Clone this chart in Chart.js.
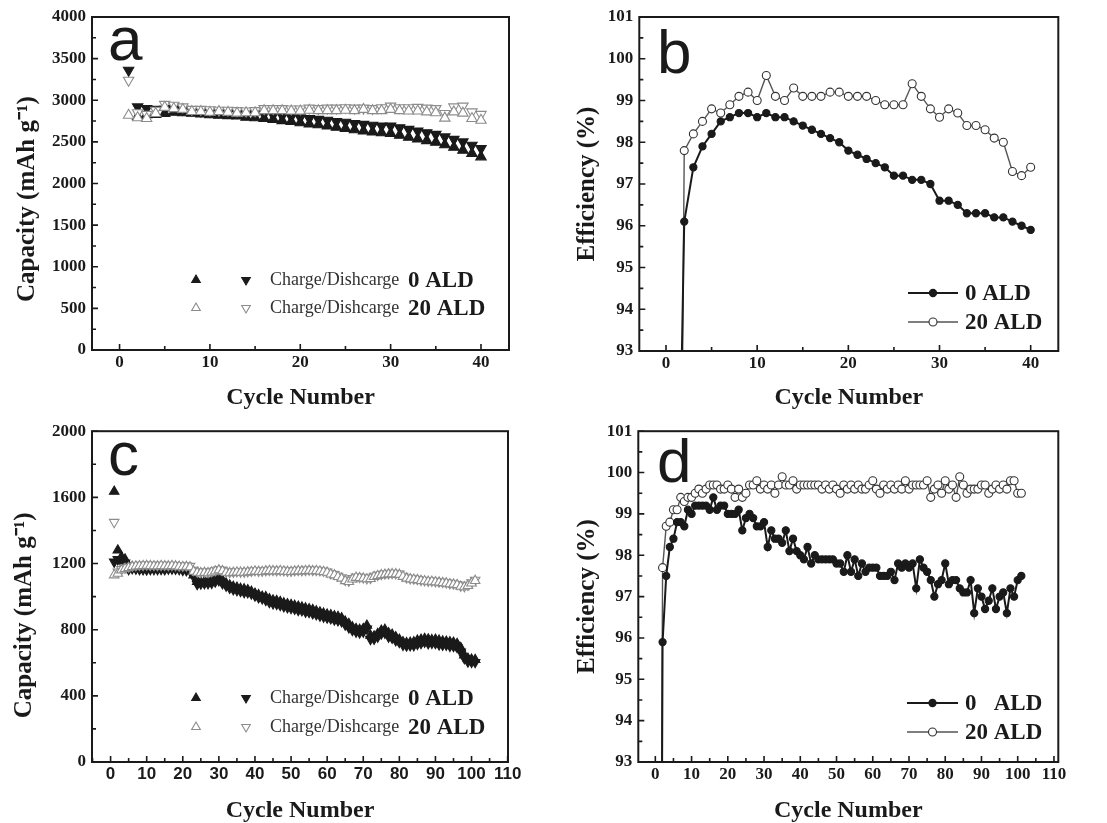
<!DOCTYPE html>
<html>
<head>
<meta charset="utf-8">
<script src="https://cdn.jsdelivr.net/npm/chart.js@4"></script>
<style>
  body { margin: 0; background: #fff; }
  #wrap { position: relative; width: 1107px; height: 823px; overflow: hidden; background: #fff; }
  canvas { position: absolute; }
</style>
</head>
<body>
<div id="wrap">
  <canvas id="chart-a" width="550" height="415" style="left:0;top:0"></canvas>
  <canvas id="chart-b" width="557" height="415" style="left:550px;top:0"></canvas>
  <canvas id="chart-c" width="550" height="408" style="left:0;top:415px"></canvas>
  <canvas id="chart-d" width="557" height="408" style="left:550px;top:415px"></canvas>
</div>
<script>
// ---- data ----
const cyclesA = [1, 2, 3, 4, 5, 6, 7, 8, 9, 10, 11, 12, 13, 14, 15, 16, 17, 18, 19, 20,
  21, 22, 23, 24, 25, 26, 27, 28, 29, 30, 31, 32, 33, 34, 35, 36, 37, 38, 39, 40];

// (a) capacity, mAh/g
const chargeA0 = [null, 2805, 2825, 2830, 2840, 2855, 2850, 2845, 2835, 2825,
  2820, 2815, 2810, 2795, 2790, 2780, 2770, 2755, 2745, 2730,
  2715, 2705, 2690, 2675, 2660, 2645, 2630, 2620, 2610, 2600,
  2580, 2555, 2535, 2515, 2495, 2465, 2435, 2400, 2360, 2320];
const dischargeA0 = [3360, 2920, 2900, 2890, 2890, 2900, 2890, 2880, 2870, 2865,
  2860, 2855, 2850, 2840, 2835, 2830, 2820, 2810, 2800, 2790,
  2780, 2770, 2760, 2745, 2735, 2720, 2710, 2700, 2690, 2690,
  2670, 2650, 2630, 2610, 2590, 2560, 2530, 2500, 2460, 2420];
const chargeA20 = [2820, 2790, 2780, 2840, 2915, 2900, 2890, 2865, 2865, 2855,
  2865, 2855, 2845, 2850, 2850, 2875, 2875, 2875, 2870, 2870,
  2880, 2875, 2875, 2875, 2880, 2875, 2890, 2875, 2875, 2890,
  2875, 2870, 2870, 2860, 2850, 2785, 2860, 2845, 2780, 2760];
const dischargeA20 = [3240, 2850, 2830, 2880, 2950, 2940, 2920, 2890, 2890, 2885,
  2880, 2880, 2875, 2870, 2875, 2900, 2900, 2900, 2895, 2895,
  2905, 2900, 2905, 2905, 2910, 2905, 2905, 2900, 2910, 2930,
  2910, 2910, 2915, 2905, 2900, 2840, 2920, 2930, 2860, 2830];

// (b) coulombic efficiency, %
const effB0 = [84, 96.1, 97.4, 97.9, 98.2, 98.5, 98.6, 98.7, 98.7, 98.6,
  98.7, 98.6, 98.6, 98.5, 98.4, 98.3, 98.2, 98.1, 98.0, 97.8,
  97.7, 97.6, 97.5, 97.4, 97.2, 97.2, 97.1, 97.1, 97.0, 96.6,
  96.6, 96.5, 96.3, 96.3, 96.3, 96.2, 96.2, 96.1, 96.0, 95.9];
const effB20 = [70, 97.8, 98.2, 98.5, 98.8, 98.7, 98.9, 99.1, 99.2, 99.0,
  99.6, 99.1, 99.0, 99.3, 99.1, 99.1, 99.1, 99.2, 99.2, 99.1,
  99.1, 99.1, 99.0, 98.9, 98.9, 98.9, 99.4, 99.1, 98.8, 98.6,
  98.8, 98.7, 98.4, 98.4, 98.3, 98.1, 98.0, 97.3, 97.2, 97.4];

const cyclesC = [1, 2, 3, 4, 5, 6, 7, 8, 9, 10, 11, 12, 13, 14, 15, 16, 17, 18, 19, 20,
  21, 22, 23, 24, 25, 26, 27, 28, 29, 30, 31, 32, 33, 34, 35, 36, 37, 38, 39, 40,
  41, 42, 43, 44, 45, 46, 47, 48, 49, 50, 51, 52, 53, 54, 55, 56, 57, 58, 59, 60,
  61, 62, 63, 64, 65, 66, 67, 68, 69, 70, 71, 72, 73, 74, 75, 76, 77, 78, 79, 80,
  81, 82, 83, 84, 85, 86, 87, 88, 89, 90, 91, 92, 93, 94, 95, 96, 97, 98, 99, 100, 101];

// (c) capacity, mAh/g
const chargeC0 = [1635, 1280, 1240, 1225, 1185, 1180, 1178, 1176, 1175, 1175,
  1174, 1175, 1175, 1176, 1175, 1176, 1178, 1177, 1175, 1172,
  1170, 1168, 1130, 1090, 1088, 1090, 1092, 1095, 1105, 1110,
  1098, 1080, 1068, 1060, 1055, 1048, 1045, 1040, 1030, 1018,
  1010, 1000, 998, 985, 978, 975, 968, 960, 955, 950,
  945, 940, 935, 930, 925, 920, 912, 905, 898, 892,
  888, 882, 878, 870, 850, 835, 815, 805, 800, 805,
  825, 765, 760, 775, 795, 800, 780, 770, 755, 740,
  725, 720, 722, 725, 735, 740, 745, 742, 738, 740,
  735, 730, 728, 725, 722, 715, 690, 645, 625, 620, 618];
const dischargeC0 = [1210, 1225, 1210, 1205, 1165, 1170, 1168, 1165, 1164, 1163,
  1165, 1165, 1165, 1166, 1164, 1168, 1168, 1167, 1165, 1160,
  1158, 1157, 1120, 1075, 1078, 1080, 1080, 1082, 1090, 1098,
  1080, 1065, 1052, 1043, 1038, 1033, 1026, 1025, 1018, 1005,
  995, 988, 978, 966, 958, 955, 948, 940, 935, 930,
  925, 918, 916, 908, 906, 898, 892, 884, 878, 872,
  868, 860, 856, 850, 830, 813, 797, 787, 782, 787,
  806, 743, 744, 757, 776, 780, 757, 750, 735, 724,
  707, 703, 705, 705, 713, 718, 726, 717, 719, 718,
  710, 708, 708, 701, 700, 694, 667, 627, 606, 604, 603];
const chargeC20 = [1130, 1140, 1160, 1168, 1174, 1180, 1183, 1185, 1186, 1187,
  1186, 1185, 1184, 1186, 1185, 1184, 1186, 1184, 1182, 1180,
  1181, 1178, 1152, 1145, 1143, 1145, 1143, 1147, 1153, 1160,
  1155, 1146, 1143, 1145, 1147, 1146, 1146, 1148, 1150, 1153,
  1151, 1150, 1154, 1156, 1155, 1154, 1156, 1153, 1151, 1150,
  1153, 1155, 1154, 1156, 1157, 1155, 1156, 1153, 1150, 1146,
  1135, 1130, 1120, 1110, 1095, 1090, 1105, 1115, 1113, 1110,
  1106, 1108, 1120, 1126, 1131, 1133, 1136, 1137, 1136, 1133,
  1121, 1110, 1106, 1103, 1101, 1096, 1094, 1091, 1091, 1088,
  1086, 1083, 1081, 1076, 1074, 1071, 1061, 1058, 1066, 1081, 1096];
const dischargeC20 = [1450, 1150, 1165, 1175, 1180, 1185, 1188, 1190, 1190, 1192,
  1190, 1190, 1188, 1190, 1190, 1188, 1190, 1188, 1186, 1185,
  1186, 1184, 1160, 1150, 1148, 1150, 1148, 1152, 1158, 1165,
  1160, 1150, 1148, 1150, 1152, 1150, 1150, 1152, 1155, 1158,
  1155, 1155, 1158, 1160, 1160, 1158, 1160, 1158, 1155, 1155,
  1158, 1160, 1158, 1160, 1162, 1160, 1160, 1158, 1155, 1150,
  1140, 1135, 1125, 1115, 1100, 1095, 1110, 1120, 1118, 1115,
  1110, 1112, 1125, 1130, 1135, 1138, 1140, 1142, 1140, 1138,
  1125, 1115, 1110, 1108, 1105, 1100, 1098, 1095, 1095, 1092,
  1090, 1088, 1085, 1080, 1078, 1075, 1065, 1062, 1070, 1085, 1100];

// (d) coulombic efficiency, %
const effD0 = [74, 95.9, 97.5, 98.2, 98.4, 98.8, 98.8, 98.7, 99.1, 99.0,
  99.2, 99.2, 99.2, 99.2, 99.1, 99.4, 99.1, 99.2, 99.2, 99.0,
  99.0, 99.0, 99.1, 98.6, 98.9, 99.0, 98.9, 98.7, 98.7, 98.8,
  98.2, 98.6, 98.4, 98.4, 98.3, 98.6, 98.1, 98.4, 98.1, 98.0,
  97.9, 98.2, 97.8, 98.0, 97.9, 97.9, 97.9, 97.9, 97.9, 97.8,
  97.8, 97.6, 98.0, 97.6, 97.9, 97.5, 97.8, 97.6, 97.7, 97.7,
  97.7, 97.5, 97.5, 97.5, 97.6, 97.4, 97.8, 97.7, 97.8, 97.7,
  97.8, 97.2, 97.9, 97.7, 97.6, 97.4, 97.0, 97.3, 97.4, 97.8,
  97.3, 97.4, 97.4, 97.2, 97.1, 97.1, 97.4, 96.6, 97.2, 97.0,
  96.7, 96.9, 97.2, 96.7, 97.0, 97.1, 96.6, 97.2, 97.0, 97.4, 97.5];
const effD20 = [78, 97.7, 98.7, 98.8, 99.1, 99.1, 99.4, 99.3, 99.4, 99.4,
  99.5, 99.6, 99.5, 99.6, 99.7, 99.7, 99.7, 99.6, 99.6, 99.7,
  99.6, 99.4, 99.6, 99.4, 99.5, 99.7, 99.7, 99.8, 99.6, 99.7,
  99.6, 99.7, 99.5, 99.7, 99.9, 99.7, 99.7, 99.8, 99.6, 99.7,
  99.7, 99.7, 99.7, 99.7, 99.7, 99.6, 99.7, 99.6, 99.7, 99.6,
  99.5, 99.7, 99.6, 99.7, 99.6, 99.7, 99.6, 99.6, 99.7, 99.8,
  99.6, 99.5, 99.7, 99.6, 99.7, 99.6, 99.7, 99.6, 99.8, 99.6,
  99.7, 99.7, 99.7, 99.7, 99.8, 99.4, 99.6, 99.7, 99.5, 99.8,
  99.6, 99.7, 99.4, 99.9, 99.7, 99.5, 99.6, 99.6, 99.6, 99.7,
  99.7, 99.5, 99.6, 99.7, 99.6, 99.7, 99.6, 99.8, 99.8, 99.5, 99.5];

// tick labels
const xTicksA = [0, 10, 20, 30, 40];
const yTicksA = [0, 500, 1000, 1500, 2000, 2500, 3000, 3500, 4000];
const xTicksC = [0, 10, 20, 30, 40, 50, 60, 70, 80, 90, 100, 110];
const yTicksC = [0, 400, 800, 1200, 1600, 2000];
const yTicksEff = [93, 94, 95, 96, 97, 98, 99, 100, 101];

// ---- styling helpers ----
const SERIF = "'Liberation Serif', 'Times New Roman', serif";
const SANS = "'Liberation Sans', Arial, sans-serif";
const DARK = "#1a1a1a";
const GREY = "#8c8c8c";

function points(cycles, values) {
  return cycles.map((c, i) => ({ x: c, y: values[i] })).filter((p) => p.y !== null);
}

function triSet(label, cycles, values, up, filled, r) {
  return {
    label,
    data: points(cycles, values),
    showLine: false,
    pointStyle: "triangle",
    pointRotation: up ? 0 : 180,
    pointRadius: r,
    pointBackgroundColor: filled ? DARK : "#ffffff",
    pointBorderColor: filled ? DARK : GREY,
    pointBorderWidth: 1.1,
  };
}

function effSet(label, cycles, values, filled) {
  return {
    label,
    data: points(cycles, values),
    showLine: true,
    borderColor: filled ? DARK : "#555555",
    borderWidth: filled ? 2 : 1.4,
    pointStyle: "circle",
    pointRadius: filled ? 3.6 : 4,
    pointBackgroundColor: filled ? DARK : "#ffffff",
    pointBorderColor: filled ? DARK : "#333333",
    pointBorderWidth: 1.1,
  };
}

function drawTri(ctx, x, y, r, up, filled) {
  const s = up ? 1 : -1;
  ctx.beginPath();
  ctx.moveTo(x, y - s * r);
  ctx.lineTo(x + r * 0.866, y + s * r * 0.5);
  ctx.lineTo(x - r * 0.866, y + s * r * 0.5);
  ctx.closePath();
  ctx.fillStyle = filled ? DARK : "#ffffff";
  ctx.strokeStyle = filled ? DARK : GREY;
  ctx.lineWidth = 1.1;
  ctx.fill();
  ctx.stroke();
}

// inward tick marks: majors at the labelled values, minors half way
function tickMarks(values, scale) {
  const step = values[1] - values[0];
  const marks = [];
  for (let v = values[0] - step / 2; v <= scale.max + 1e-9; v += step / 2) {
    if (v < scale.min - 1e-9) continue;
    marks.push([v, values.includes(v)]);
  }
  return marks;
}

// frame, inward ticks, panel letter and legend
const panelDecor = {
  id: "panelDecor",
  afterDraw(chart, args, opts) {
    const { ctx, chartArea: a, scales } = chart;
    ctx.save();

    ctx.strokeStyle = DARK;
    ctx.lineWidth = 1.6;
    ctx.beginPath();
    tickMarks(opts.xTicks, scales.x).forEach(([v, major]) => {
      const px = scales.x.getPixelForValue(v);
      ctx.moveTo(px, a.bottom);
      ctx.lineTo(px, a.bottom - (major ? 6 : 4));
    });
    tickMarks(opts.yTicks, scales.y).forEach(([v, major]) => {
      const py = scales.y.getPixelForValue(v);
      ctx.moveTo(a.left, py);
      ctx.lineTo(a.left + (major ? 6 : 4), py);
    });
    ctx.stroke();

    ctx.lineWidth = 2;
    ctx.strokeRect(a.left, a.top, a.right - a.left, a.bottom - a.top);

    // panel letter
    const L = opts.letter;
    ctx.fillStyle = DARK;
    ctx.font = "62px " + SANS;
    ctx.textBaseline = "alphabetic";
    ctx.textAlign = "left";
    ctx.fillText(L.text, L.x, L.y);

    // legend
    const lg = opts.legend;
    ctx.textBaseline = "middle";
    ctx.textAlign = "left";
    lg.rows.forEach((row) => {
      if (lg.type === "tri") {
        drawTri(ctx, lg.triX[0], row.y, 5, true, row.filled);
        drawTri(ctx, lg.triX[1], row.y, 5, false, row.filled);
        ctx.fillStyle = "#333333";
        ctx.font = "18px " + SERIF;
        ctx.fillText("Charge/Dishcarge", lg.textX, row.y);
        ctx.fillStyle = DARK;
        ctx.font = "bold 23px " + SERIF;
        ctx.fillText(row.text, lg.labelX, row.y + 1);
      } else {
        ctx.strokeStyle = row.filled ? DARK : "#555555";
        ctx.lineWidth = row.filled ? 2 : 1.4;
        ctx.beginPath();
        ctx.moveTo(lg.x0, row.y);
        ctx.lineTo(lg.x1, row.y);
        ctx.stroke();
        ctx.beginPath();
        ctx.arc((lg.x0 + lg.x1) / 2, row.y, row.filled ? 3.6 : 4, 0, Math.PI * 2);
        ctx.fillStyle = row.filled ? DARK : "#ffffff";
        ctx.fill();
        ctx.lineWidth = 1.1;
        ctx.strokeStyle = row.filled ? DARK : "#333333";
        ctx.stroke();
        ctx.fillStyle = DARK;
        ctx.font = "bold 23px " + SERIF;
        if (row.split) {
          ctx.fillText(row.split[0], lg.textX, row.y + 1);
          ctx.fillText(row.split[1], lg.textX + ctx.measureText("20 ").width, row.y + 1);
        } else {
          ctx.fillText(row.text, lg.textX, row.y + 1);
        }
      }
    });

    ctx.restore();
  },
};

function makeChart(id, datasets, o) {
  return new Chart(document.getElementById(id), {
    type: "scatter",
    data: { datasets },
    options: {
      responsive: false,
      animation: false,
      events: [],
      layout: { padding: o.padding },
      plugins: {
        legend: { display: false },
        tooltip: { enabled: false },
        panelDecor: o.decor,
      },
      scales: {
        x: {
          type: "linear",
          min: o.xMin,
          max: o.xMax,
          afterBuildTicks: (s) => {
            s.ticks = o.decor.xTicks.map((v) => ({ value: v }));
          },
          afterFit: (s) => {
            s.height = o.xHeight;
          },
          grid: { display: false, drawTicks: false },
          border: { display: false },
          ticks: {
            color: DARK,
            padding: 2,
            maxRotation: 0,
            font: { family: o.xTickFamily, size: 17, weight: "bold" },
            callback: (v) => String(v),
          },
          title: {
            display: true,
            text: "Cycle Number",
            color: DARK,
            font: { family: SERIF, size: 24, weight: "bold", lineHeight: 1.0 },
            padding: { top: 0, bottom: o.xTitlePad },
          },
        },
        y: {
          type: "linear",
          min: o.yMin,
          max: o.yMax,
          afterBuildTicks: (s) => {
            s.ticks = o.decor.yTicks.map((v) => ({ value: v }));
          },
          afterFit: (s) => {
            s.width = o.yWidth;
          },
          grid: { display: false, drawTicks: false },
          border: { display: false },
          ticks: {
            color: DARK,
            padding: 6,
            font: { family: SERIF, size: 17, weight: "bold" },
            callback: (v) => String(v),
          },
          title: {
            display: true,
            text: o.yTitle,
            color: DARK,
            font: { family: SERIF, size: 25, weight: "bold", lineHeight: 1.2 },
            padding: { top: o.yTitlePad, bottom: 0 },
          },
        },
      },
    },
    plugins: [panelDecor],
  });
}

// (a)
makeChart("chart-a", [
  triSet("20 ALD charge", cyclesA, chargeA20, true, false, 6),
  triSet("20 ALD discharge", cyclesA, dischargeA20, false, false, 6),
  triSet("0 ALD charge", cyclesA, chargeA0, true, true, 6),
  triSet("0 ALD discharge", cyclesA, dischargeA0, false, true, 6),
], {
  padding: { left: 0, top: 17, right: 41, bottom: 0 },
  xMin: -3.05, xMax: 43.1, yMin: 0, yMax: 4000,
  yWidth: 92, xHeight: 65, yTitlePad: 13, xTitlePad: 5,
  xTickFamily: SERIF,
  yTitle: "Capacity (mAh g\u207B\u00B9)     ",
  decor: {
    xTicks: xTicksA, yTicks: yTicksA,
    letter: { text: "a", x: 108, y: 60 },
    legend: {
      type: "tri", triX: [196, 246], textX: 270, labelX: 408,
      rows: [{ y: 280, filled: true, text: "0 ALD" }, { y: 308, filled: false, text: "20 ALD" }],
    },
  },
});

// (b)
makeChart("chart-b", [
  effSet("0 ALD", cyclesA, effB0, true),
  effSet("20 ALD", cyclesA, effB20, false),
], {
  padding: { left: 0, top: 17, right: 48.7, bottom: 0 },
  xMin: -2.93, xMax: 43.03, yMin: 93, yMax: 101,
  yWidth: 89.3, xHeight: 64, yTitlePad: 23, xTitlePad: 5,
  xTickFamily: SERIF,
  yTitle: "Efficiency (%)",
  decor: {
    xTicks: xTicksA, yTicks: yTicksEff,
    letter: { text: "b", x: 107, y: 73 },
    legend: {
      type: "line", x0: 358, x1: 408, textX: 415,
      rows: [{ y: 293, filled: true, text: "0 ALD" }, { y: 322, filled: false, text: "20 ALD" }],
    },
  },
});

// (c)
makeChart("chart-c", [
  triSet("20 ALD charge", cyclesC, chargeC20, true, false, 5.5),
  triSet("20 ALD discharge", cyclesC, dischargeC20, false, false, 5.5),
  triSet("0 ALD charge", cyclesC, chargeC0, true, true, 5.5),
  triSet("0 ALD discharge", cyclesC, dischargeC0, false, true, 5.5),
], {
  padding: { left: 0, top: 14, right: 42, bottom: 0 },
  xMin: -5.15, xMax: 110.1, yMin: 0, yMax: 2000,
  yWidth: 92, xHeight: 61, yTitlePad: 10, xTitlePad: 0,
  xTickFamily: SANS,
  yTitle: "Capacity (mAh g\u207B\u00B9)      ",
  decor: {
    xTicks: xTicksC, yTicks: yTicksC,
    letter: { text: "c", x: 108, y: 60 },
    legend: {
      type: "tri", triX: [196, 246], textX: 270, labelX: 408,
      rows: [{ y: 283, filled: true, text: "0 ALD" }, { y: 312, filled: false, text: "20 ALD" }],
    },
  },
});

// (d)
makeChart("chart-d", [
  effSet("0 ALD", cyclesC, effD0, true),
  effSet("20 ALD", cyclesC, effD20, false),
], {
  padding: { left: 0, top: 14, right: 48.7, bottom: 0 },
  xMin: -4.7, xMax: 111.2, yMin: 93, yMax: 101,
  yWidth: 88.3, xHeight: 61, yTitlePad: 23, xTitlePad: 0,
  xTickFamily: SERIF,
  yTitle: "Efficiency (%)",
  decor: {
    xTicks: xTicksC, yTicks: yTicksEff,
    letter: { text: "d", x: 107, y: 67 },
    legend: {
      type: "line", x0: 357, x1: 408, textX: 415,
      rows: [{ y: 288, filled: true, text: "0 ALD", split: ["0", "ALD"] },
             { y: 317, filled: false, text: "20 ALD" }],
    },
  },
});
</script>
</body>
</html>
